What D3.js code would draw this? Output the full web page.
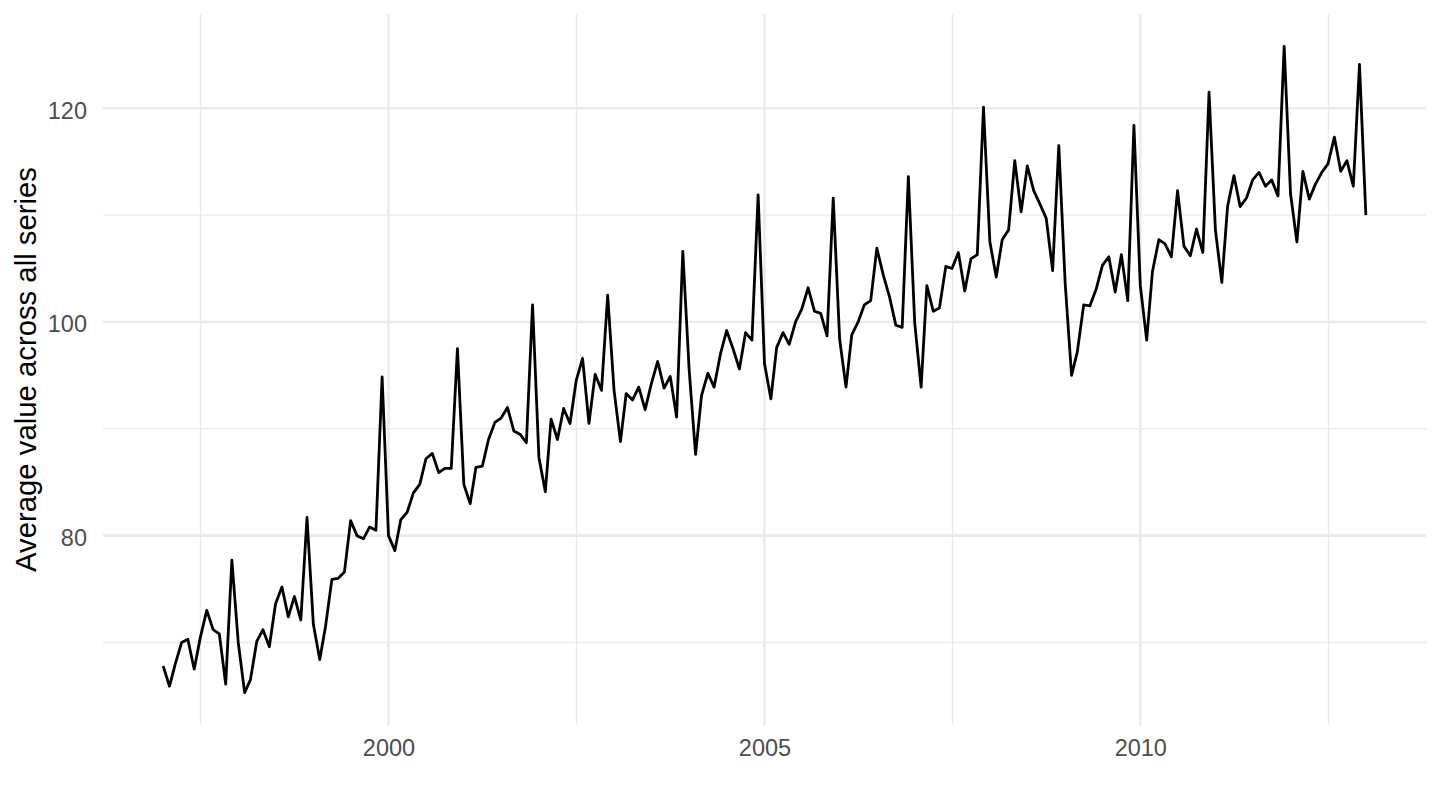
<!DOCTYPE html>
<html>
<head>
<meta charset="utf-8">
<script src="https://cdn.jsdelivr.net/npm/d3@7"></script>
<style>
  body { margin: 0; background: #fff; }
  text { font-family: "Liberation Sans", Arial, Helvetica, sans-serif; }
</style>
</head>
<body>
<div id="chart"></div>
<script>
// monthly series, first value is Jan 1997
const startYear = 1997;
const startMonth = 0;
const monthlyAverage = [
  67.8, 65.9, 68.0, 70.0, 70.3, 67.5, 70.5, 73.0, 71.2, 70.8, 66.1, 77.7,   // 1997
  70.0, 65.3, 66.5, 70.1, 71.2, 69.6, 73.6, 75.2, 72.4, 74.3, 72.1, 81.7,   // 1998
  71.7, 68.4, 71.5, 75.9, 76.0, 76.6, 81.4, 80.0, 79.7, 80.8, 80.5, 94.85,  // 1999
  80.0, 78.6, 81.5, 82.2, 84.0, 84.8, 87.2, 87.7, 85.9, 86.3, 86.3, 97.5,   // 2000
  84.8, 83.0, 86.4, 86.5, 89.0, 90.6, 91.0, 92.0, 89.8, 89.5, 88.7, 101.6,  // 2001
  87.3, 84.1, 90.9, 89.0, 91.9, 90.5, 94.5, 96.6, 90.5, 95.1, 93.6, 102.5,  // 2002
  93.6, 88.8, 93.3, 92.7, 93.9, 91.8, 94.2, 96.3, 93.8, 94.9, 91.1, 106.6,  // 2003
  95.5, 87.6, 93.1, 95.2, 93.9, 97.0, 99.2, 97.5, 95.6, 99.0, 98.3, 111.9,  // 2004
  96.1, 92.8, 97.6, 99.0, 97.9, 100.0, 101.2, 103.2, 101.0, 100.8, 98.7, 111.6, // 2005
  98.4, 93.9, 98.8, 100.0, 101.6, 102.0, 106.9, 104.4, 102.3, 99.7, 99.5, 113.6, // 2006
  99.9, 93.9, 103.4, 101.0, 101.3, 105.2, 105.0, 106.5, 102.9, 105.9, 106.3, 120.1, // 2007
  107.5, 104.2, 107.7, 108.6, 115.1, 110.3, 114.6, 112.3, 111.0, 109.7, 104.8, 116.5, // 2008
  103.6, 95.0, 97.2, 101.6, 101.5, 103.1, 105.3, 106.1, 102.8, 106.3, 102.0, 118.4, // 2009
  103.4, 98.3, 104.7, 107.7, 107.3, 106.1, 112.3, 107.1, 106.2, 108.7, 106.5, 121.5, // 2010
  108.6, 103.7, 110.8, 113.7, 110.8, 111.6, 113.3, 114.0, 112.7, 113.3, 111.8, 125.8, // 2011
  112.0, 107.5, 114.1, 111.5, 112.9, 114.0, 114.8, 117.3, 114.1, 115.1, 112.7, 124.1, // 2012
  110.0                                                                      // 2013
];
const xTickYears = [2000, 2005, 2010];
const yTicks = [80, 100, 120];
const yMinorTicks = [70, 90, 110];
const yTitle = "Average value across all series";

const width = 1440, height = 810;
const margin = {top: 14, right: 14, bottom: 85, left: 103};

const data = monthlyAverage.map((v, i) => ({date: new Date(startYear, startMonth + i, 1), value: v}));

const svg = d3.select("#chart").append("svg")
    .attr("width", width)
    .attr("height", height);

// ggplot style 5% expansion on both axes
const xExt = d3.extent(data, d => d.date);
const xPad = (xExt[1] - xExt[0]) * 0.05;
const x = d3.scaleTime()
    .domain([new Date(+xExt[0] - xPad), new Date(+xExt[1] + xPad)])
    .range([margin.left, width - margin.right]);

const yExt = d3.extent(data, d => d.value);
const yPad = (yExt[1] - yExt[0]) * 0.05;
const y = d3.scaleLinear()
    .domain([yExt[0] - yPad, yExt[1] + yPad])
    .range([height - margin.bottom, margin.top]);

const xMajor = xTickYears.map(yr => new Date(yr, 0, 1));
// minor breaks halfway between the major ones
const step = +xMajor[1] - +xMajor[0];
const xMinor = [];
for (let t = +xMajor[0] - step / 2; t < +x.domain()[1]; t += step) {
    if (t > +x.domain()[0]) xMinor.push(new Date(t));
}

const grid = svg.append("g");
grid.selectAll(".ymin").data(yMinorTicks).enter().append("line")
    .attr("x1", margin.left).attr("x2", width - margin.right)
    .attr("y1", d => y(d)).attr("y2", d => y(d))
    .style("stroke", "#ebebeb").style("stroke-width", 1.4);
grid.selectAll(".xmin").data(xMinor).enter().append("line")
    .attr("x1", d => x(d)).attr("x2", d => x(d))
    .attr("y1", margin.top).attr("y2", height - margin.bottom)
    .style("stroke", "#ebebeb").style("stroke-width", 1.4);
grid.selectAll(".ymaj").data(yTicks).enter().append("line")
    .attr("x1", margin.left).attr("x2", width - margin.right)
    .attr("y1", d => y(d)).attr("y2", d => y(d))
    .style("stroke", "#ebebeb").style("stroke-width", 2.6);
grid.selectAll(".xmaj").data(xMajor).enter().append("line")
    .attr("x1", d => x(d)).attr("x2", d => x(d))
    .attr("y1", margin.top).attr("y2", height - margin.bottom)
    .style("stroke", "#ebebeb").style("stroke-width", 2.6);

const line = d3.line()
    .x(d => x(d.date))
    .y(d => y(d.value));

svg.append("path")
    .datum(data)
    .attr("d", line)
    .style("fill", "none")
    .style("stroke", "#000")
    .style("stroke-width", 2.8)
    .style("stroke-linejoin", "round");

// axes, no domain line, no ticks (theme_minimal)
const yAxis = svg.append("g")
    .attr("transform", "translate(" + margin.left + ",0)")
    .call(d3.axisLeft(y).tickValues(yTicks).tickSize(0).tickPadding(16));
yAxis.select(".domain").remove();
yAxis.selectAll("text")
    .attr("dy", null)
    .attr("y", 10)
    .style("font-size", "23.5px")
    .style("fill", "#4d4d4d");

const xAxis = svg.append("g")
    .attr("transform", "translate(0," + (height - margin.bottom) + ")")
    .call(d3.axisBottom(x).tickValues(xMajor).tickFormat(d3.timeFormat("%Y")).tickSize(0).tickPadding(0));
xAxis.select(".domain").remove();
xAxis.selectAll("text")
    .attr("dy", null)
    .attr("y", 31)
    .style("font-size", "23.5px")
    .style("fill", "#4d4d4d");

svg.append("text")
    .attr("transform", "translate(36," + ((margin.top + height - margin.bottom) / 2) + ") rotate(-90)")
    .attr("text-anchor", "middle")
    .style("font-size", "29.3px")
    .style("fill", "#000")
    .text(yTitle);
</script>
</body>
</html>
